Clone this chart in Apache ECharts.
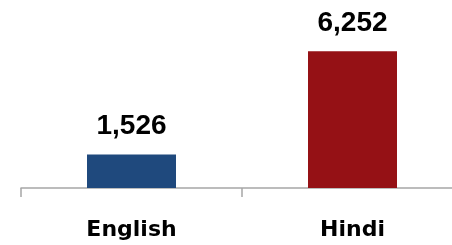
<!DOCTYPE html>
<html>
<head>
    <meta charset="utf-8">
    <title>ECharts</title>
    <script src="https://cdn.jsdelivr.net/npm/echarts@6/dist/echarts.min.js"></script>
    <style>
        html, body { margin: 0; padding: 0; background: #fff; }
    </style>
</head>
<body>
    <div id="main" style="width: 452px;height:245px;"></div>
    <script type="text/javascript">
        var languages = ['English', 'Hindi'];
        var counts = [1526, 6252];
        var barColors = ['#1F497D', '#951115'];

        var myChart = echarts.init(document.getElementById('main'));

        var option = {
            animation: false,
            grid: {
                left: 21, width: 442, top: 13, bottom: 57,
                containLabel: false,
                outerBoundsMode: 'none'
            },
            xAxis: {
                type: 'category',
                data: languages,
                axisLine: { lineStyle: { color: '#A6A6A6', width: 1.5 } },
                axisTick: { show: true, length: 9, lineStyle: { color: '#A6A6A6', width: 1.5 } },
                axisLabel: {
                    margin: 31,
                    color: '#000',
                    fontFamily: 'DejaVu Sans',
                    fontWeight: 'bold',
                    fontSize: 22
                }
            },
            yAxis: {
                type: 'value',
                min: 0,
                max: 8000,
                show: false
            },
            series: [{
                type: 'bar',
                barWidth: 89,
                data: counts.map(function(v, i) {
                    return { value: v, itemStyle: { color: barColors[i] } };
                }),
                label: {
                    show: true,
                    position: 'top',
                    distance: 14,
                    color: '#000',
                    fontFamily: 'Liberation Sans',
                    fontWeight: 'bold',
                    fontSize: 28,
                    formatter: function(p) {
                        return p.value.toLocaleString('en-US');
                    }
                }
            }]
        };

        myChart.setOption(option);
    </script>
</body>
</html>
